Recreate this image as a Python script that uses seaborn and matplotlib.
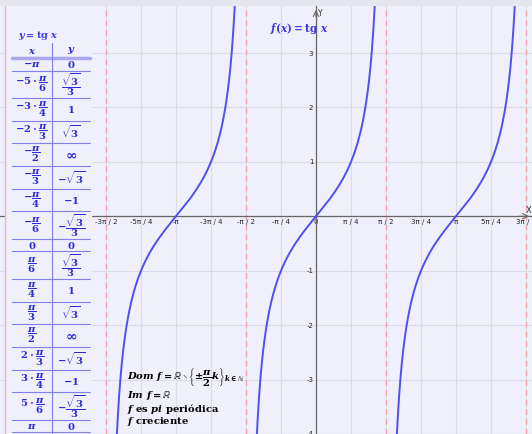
import numpy as np
import pandas as pd
import matplotlib.pyplot as plt
import seaborn as sns
from matplotlib.lines import Line2D
from matplotlib.patches import Rectangle

# ---- data ----
branch_centres = [-np.pi, 0.0, np.pi]          # periods of tg x drawn (-3pi/2 .. 3pi/2)
asymptotes = [-3 * np.pi / 2, -np.pi / 2, np.pi / 2, 3 * np.pi / 2]

x_tick_quarters = [-6, -5, -4, -3, -2, -1, 0, 1, 2, 3, 4, 5, 6]
x_tick_labels = ['-3π / 2', '-5π / 4', '-π', '-3π / 4', '-π / 2', '-π / 4', '0',
                 'π / 4', 'π / 2', '3π / 4', 'π', '5π / 4', '3π / 2']
y_ticks = [-4, -3, -2, -1, 1, 2, 3]

table_x = [r'-\pi', r'-5\cdot\dfrac{\pi}{6}', r'-3\cdot\dfrac{\pi}{4}', r'-2\cdot\dfrac{\pi}{3}',
           r'-\dfrac{\pi}{2}', r'-\dfrac{\pi}{3}', r'-\dfrac{\pi}{4}', r'-\dfrac{\pi}{6}', '0',
           r'\dfrac{\pi}{6}', r'\dfrac{\pi}{4}', r'\dfrac{\pi}{3}', r'\dfrac{\pi}{2}',
           r'2\cdot\dfrac{\pi}{3}', r'3\cdot\dfrac{\pi}{4}', r'5\cdot\dfrac{\pi}{6}', r'\pi']
table_y = ['0', r'\dfrac{\sqrt{3}}{3}', '1', r'\sqrt{3}', r'\infty', r'-\sqrt{3}', '-1',
           r'-\dfrac{\sqrt{3}}{3}', '0', r'\dfrac{\sqrt{3}}{3}', '1', r'\sqrt{3}', r'\infty',
           r'-\sqrt{3}', '-1', r'-\dfrac{\sqrt{3}}{3}', '0']

props = [r'$Dom\ f = \mathbb{R} \setminus \left\{\pm\dfrac{\pi}{2}k\right\}_{k\in\mathbb{N}}$',
         r'$Im\ f = \mathbb{R}$',
         r'$f$ es $pi$ periódica',
         r'$f$ creciente']

# ---- style ----
bg = '#f0f0fc'
curve_blue = '#5050f0'
text_blue = '#2c2cd4'
title_blue = '#3a3ae0'
line_blue = '#8080e6'

sns.set_style('white', rc={'axes.facecolor': bg, 'figure.facecolor': bg})
plt.rcParams['font.family'] = ['DejaVu Sans']
plt.rcParams['mathtext.fontset'] = 'custom'
plt.rcParams['mathtext.rm'] = 'DejaVu Serif:bold'
plt.rcParams['mathtext.bf'] = 'DejaVu Serif:bold'
plt.rcParams['mathtext.it'] = 'DejaVu Serif:italic:bold'

W, H = 532, 434
fig = plt.figure(figsize=(W / 100, H / 100), dpi=100)
ax = fig.add_axes([0, 0, 1, 428 / H])

def fx(px):
    return px / W

def fy(py):
    return 1 - py / H

# curve
rows = []
for i, c in enumerate(branch_centres):
    xs = np.linspace(c - np.pi / 2 + 0.04, c + np.pi / 2 - 0.04, 400)
    for xv in xs:
        rows.append((xv, np.tan(xv), i))
df = pd.DataFrame(rows, columns=['x', 'y', 'branch'])
sns.lineplot(data=df, x='x', y='y', units='branch', estimator=None, sort=False,
             color=curve_blue, lw=1.4, ax=ax, zorder=3)

for a in asymptotes:
    ax.axvline(a, color='#f4a2aa', lw=1, ls=(0, (4, 3)), zorder=2)

ux = 140 / np.pi      # pixels per unit
uy = 54.55
ax.set_xlim(-316 / ux, 216 / ux)
ax.set_ylim(-(H - 216.8) / uy, (216.8 - 6) / uy)

ax.set_xticks([q * np.pi / 4 for q in x_tick_quarters], x_tick_labels)
ax.set_yticks(y_ticks, [str(v) for v in y_ticks])
ax.tick_params(length=0, labelsize=5, pad=2, colors='#222222')
ax.grid(True, color='#dcdce8', lw=0.8)
ax.set_axisbelow(True)
ax.set_xlabel('')
ax.set_ylabel('')
for s in ['top', 'right']:
    ax.spines[s].set_visible(False)
for s in ['left', 'bottom']:
    ax.spines[s].set_position(('data', 0))
    ax.spines[s].set_color('#666666')
    ax.spines[s].set_linewidth(0.9)
    ax.spines[s].set_zorder(2.5)

ax.annotate('', xy=(0, (216.8 - 7) / uy), xytext=(0, (216.8 - 20) / uy),
            arrowprops=dict(arrowstyle='->', color='#666666', lw=0.8))
ax.annotate('', xy=(216 / ux, 0), xytext=(200 / ux, 0),
            arrowprops=dict(arrowstyle='->', color='#666666', lw=0.8))
fig.text(fx(318), fy(13), 'Y', fontsize=5.5, ha='left', va='center', color='#333333')
fig.text(fx(526), fy(211), 'X', fontsize=6, ha='left', va='center', color='#333333')

fig.text(fx(299), fy(28), r'$f(x) = \mathrm{tg}\ x$', fontsize=7.6, color=title_blue,
         ha='center', va='center')

# ---- table ----
fig.add_artist(Rectangle((fx(5), 0), fx(92) - fx(5), fy(27), transform=fig.transFigure,
                         facecolor=bg, edgecolor='none', zorder=1))
fig.add_artist(Line2D([fx(5), fx(5)], [0, fy(6)], transform=fig.transFigure,
                      color='#f0b4ba', lw=1, zorder=2))
fig.text(fx(38), fy(35), r'$y = \mathrm{tg}\ x$', fontsize=7, color=title_blue,
         ha='center', va='center')
fig.text(fx(32), fy(51), r'$x$', fontsize=7.2, color=text_blue, ha='center', va='center')
fig.text(fx(71), fy(51), r'$y$', fontsize=7.2, color=text_blue, ha='center', va='center')
fig.add_artist(Line2D([fx(12), fx(90)], [fy(58), fy(58)], transform=fig.transFigure,
                      color='#a8a8f0', lw=2.5, zorder=2))
fig.add_artist(Line2D([fx(52), fx(52)], [fy(43), 0], transform=fig.transFigure,
                      color=line_blue, lw=0.8, zorder=2))

top = 58
for xl, yl in zip(table_x, table_y):
    if 'frac' in yl:
        h = 27.5
    elif 'frac' in xl:
        h = 22.7
    else:
        h = 12.5
    yc = top + h / 2
    fig.text(fx(32), fy(yc), '$' + xl + '$', fontsize=7.2, color=text_blue, ha='center', va='center')
    ysize = 10 if 'infty' in yl else 7.2
    fig.text(fx(71), fy(yc), '$' + yl + '$', fontsize=ysize, color=text_blue, ha='center', va='center')
    top += h
    fig.add_artist(Line2D([fx(12), fx(90)], [fy(top), fy(top)], transform=fig.transFigure,
                          color=line_blue, lw=0.8, zorder=2))

# ---- properties ----
for py, t in zip([377, 396, 408.5, 421], props):
    fig.text(fx(127), fy(py), t, fontsize=7.2, color='black', ha='left', va='center',
             family='DejaVu Serif', weight='bold')

fig.add_artist(Rectangle((0, fy(6)), 1, 6 / H, transform=fig.transFigure,
                         facecolor='#e6e6ee', edgecolor='none', zorder=5))

fig.savefig('out.png', dpi=100)
